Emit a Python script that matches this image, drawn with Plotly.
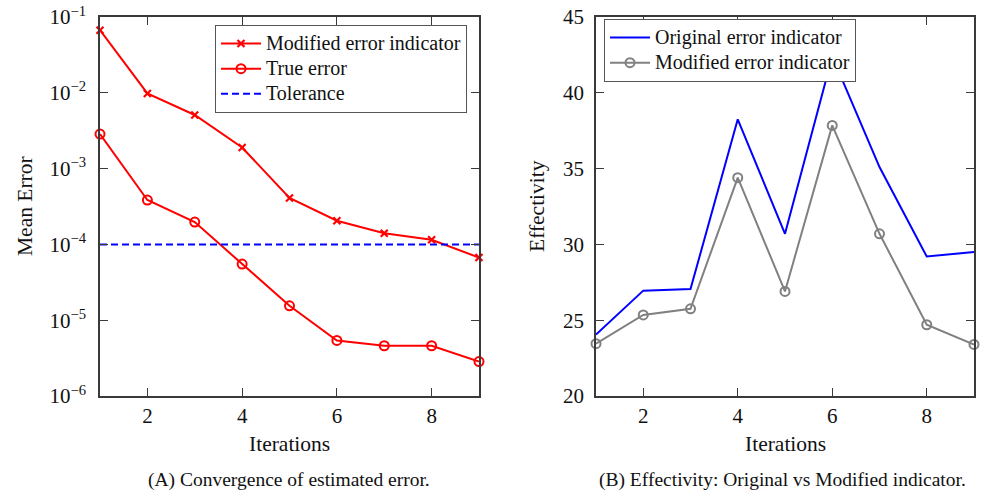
import plotly.graph_objects as go

# Iteration counts shared by both panels
iterations = [1, 2, 3, 4, 5, 6, 7, 8, 9]

# Panel A: convergence of the estimated error (log scale)
modified_indicator_err = [0.067, 0.0098, 0.0051, 0.0019, 4.1e-4, 2.05e-4, 1.4e-4, 1.15e-4, 6.7e-5]
true_error = [2.85e-3, 3.85e-4, 1.97e-4, 5.5e-5, 1.55e-5, 5.4e-6, 4.6e-6, 4.6e-6, 2.85e-6]
tolerance = [1e-4] * len(iterations)

# Panel B: effectivity of the original and modified indicators
effectivity_original = [24.05, 26.95, 27.05, 38.25, 30.7, 42.4, 35.1, 29.2, 29.5]
effectivity_modified = [23.45, 25.35, 25.75, 34.4, 26.9, 37.85, 30.7, 24.7, 23.4]

log_tick_vals = [1e-6, 1e-5, 1e-4, 1e-3, 1e-2, 1e-1]
log_tick_text = ["10<sup>−6</sup>", "10<sup>−5</sup>", "10<sup>−4</sup>",
                 "10<sup>−3</sup>", "10<sup>−2</sup>", "10<sup>−1</sup>"]
x_tick_vals = [2, 4, 6, 8]
eff_tick_vals = [20, 25, 30, 35, 40, 45]

FONT = "Liberation Serif, Times New Roman, serif"
AXIS_COLOR = "#3a3a3a"
W, H = 981, 494


def legend_label(text):
    # larger glyphs than the legend's nominal font keep the rows compact
    return f'<span style="font-size:20px">{text}</span>'


fig = go.Figure()

fig.add_trace(go.Scatter(
    x=iterations, y=modified_indicator_err, name=legend_label("Modified error indicator"),
    mode="lines+markers", line=dict(color="#ff0000", width=2),
    marker=dict(symbol="x-thin", size=7, line=dict(color="#ff0000", width=2.2)),
    cliponaxis=False, xaxis="x", yaxis="y", legend="legend"))
fig.add_trace(go.Scatter(
    x=iterations, y=true_error, name=legend_label("True error"),
    mode="lines+markers", line=dict(color="#ff0000", width=2),
    marker=dict(symbol="circle-open", size=9, line=dict(color="#ff0000", width=2)),
    cliponaxis=False, xaxis="x", yaxis="y", legend="legend"))
fig.add_trace(go.Scatter(
    x=iterations, y=tolerance, name=legend_label("Tolerance"),
    mode="lines", line=dict(color="#0000ff", width=2, dash="7px,4px"),
    xaxis="x", yaxis="y", legend="legend"))

fig.add_trace(go.Scatter(
    x=iterations, y=effectivity_original, name=legend_label("Original error indicator"),
    mode="lines", line=dict(color="#0000ff", width=2),
    xaxis="x2", yaxis="y2", legend="legend2"))
fig.add_trace(go.Scatter(
    x=iterations, y=effectivity_modified, name=legend_label("Modified error indicator"),
    mode="lines+markers", line=dict(color="#808080", width=2),
    marker=dict(symbol="circle-open", size=9, line=dict(color="#808080", width=2)),
    cliponaxis=False, xaxis="x2", yaxis="y2", legend="legend2"))

axis_common = dict(
    showline=True, linecolor=AXIS_COLOR, linewidth=1.5, mirror="allticks",
    ticks="inside", ticklen=8, tickwidth=1.3, tickcolor=AXIS_COLOR,
    showgrid=False, zeroline=False, automargin=False,
    tickfont=dict(family=FONT, size=21, color="#111"),
)

ybot, ytop = 1 - 396 / H, 1 - 17 / H

fig.update_layout(
    width=W, height=H,
    margin=dict(l=0, r=0, t=0, b=0, pad=0, autoexpand=False),
    paper_bgcolor="white", plot_bgcolor="white",
    font=dict(family=FONT, color="#111"),
    xaxis=dict(domain=[100 / W, 479 / W], range=[1, 9], tickvals=x_tick_vals,
               ticklabelstandoff=0, anchor="y", **axis_common),
    yaxis=dict(domain=[ybot, ytop], type="log", range=[-6, -1],
               tickvals=log_tick_vals, ticktext=log_tick_text,
               ticklabelstandoff=8, anchor="x", **axis_common),
    xaxis2=dict(domain=[596 / W, 974 / W], range=[1, 9], tickvals=x_tick_vals,
                ticklabelstandoff=0, anchor="y2", **axis_common),
    yaxis2=dict(domain=[ybot, ytop], range=[20, 45], tickvals=eff_tick_vals,
                ticklabelstandoff=6, anchor="x2", **axis_common),
    legend=dict(x=215 / W, y=1 - 25 / H, xanchor="left", yanchor="top",
                bgcolor="white", bordercolor="#555", borderwidth=1,
                font=dict(family=FONT, size=17, color="#111"),
                tracegroupgap=0, itemwidth=40),
    legend2=dict(x=604 / W, y=1 - 19 / H, xanchor="left", yanchor="top",
                 bgcolor="white", bordercolor="#555", borderwidth=1,
                 font=dict(family=FONT, size=17, color="#111"),
                 tracegroupgap=0, itemwidth=40),
    showlegend=True,
)

annotations = [
    dict(text="Iterations", x=289 / W, y=1 - 444 / H, size=21.5, angle=0),
    dict(text="Iterations", x=785 / W, y=1 - 444 / H, size=21.5, angle=0),
    dict(text="Mean Error", x=25 / W, y=1 - 206 / H, size=21.5, angle=-90),
    dict(text="Effectivity", x=537 / W, y=1 - 206 / H, size=21.5, angle=-90),
    dict(text="(A) Convergence of estimated error.", x=289 / W, y=1 - 480 / H, size=19.5, angle=0),
    dict(text="(B) Effectivity: Original vs Modified indicator.", x=782 / W, y=1 - 480 / H, size=19.5, angle=0),
]
for a in annotations:
    fig.add_annotation(text=a["text"], x=a["x"], y=a["y"], xref="paper", yref="paper",
                       xanchor="center", yanchor="middle", showarrow=False,
                       textangle=a["angle"],
                       font=dict(family=FONT, size=a["size"], color="#111"))

fig.write_html("out.html")
